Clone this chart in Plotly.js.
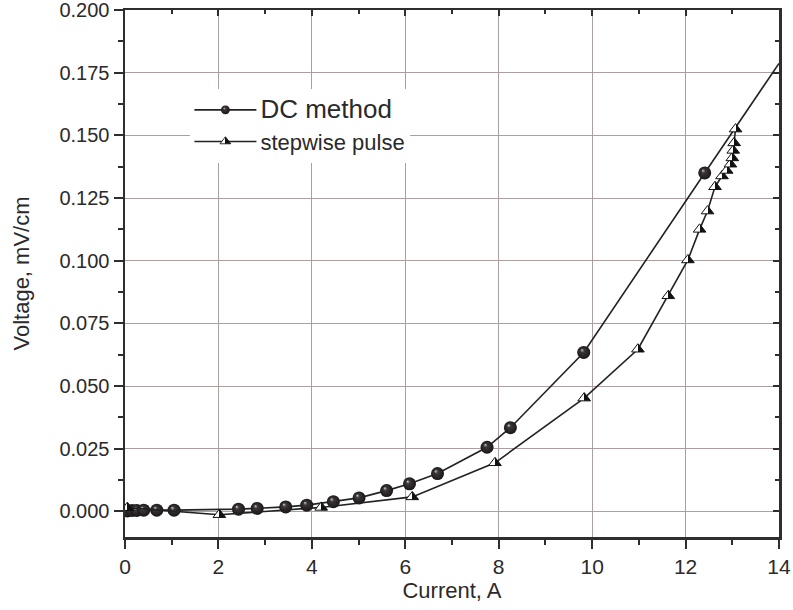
<!DOCTYPE html>
<html><head><meta charset="utf-8">
<script src="https://cdn.plot.ly/plotly-3.0.1.min.js"></script>
<style>html,body{margin:0;padding:0;background:#fff;}#chart{width:793px;height:610px;}</style>
</head><body><div id="chart"></div>
<script>
// DC method (last point: straight-line extension to the right edge, no marker)
const dcCurrent = [0.05, 0.15, 0.25, 0.40, 0.68, 1.05, 2.43, 2.83, 3.44, 3.89, 4.46, 5.01, 5.60, 6.09, 6.69, 7.75, 8.25, 9.82, 12.41, 14.0];
const dcVoltage = [0.0002, 0.0004, 0.0004, 0.0005, 0.0005, 0.0005, 0.0009, 0.0012, 0.0018, 0.0025, 0.0039, 0.0054, 0.0083, 0.0110, 0.0151, 0.0256, 0.0334, 0.0634, 0.1350, 0.1787];
const dcMarkerShown = [1,1,1,1,1,1,1,1,1,1,1,1,1,1,1,1,1,1,1,0];
// stepwise pulse
const spCurrent = [0.05, 2.02, 4.20, 6.15, 7.92, 9.83, 10.98, 11.63, 12.05, 12.30, 12.47, 12.63, 12.78, 12.88, 12.96, 13.00, 13.02, 13.04, 13.07];
const spVoltage = [0.0015, -0.0013, 0.0016, 0.0058, 0.0194, 0.0452, 0.0647, 0.0860, 0.1003, 0.1125, 0.1198, 0.1295, 0.1338, 0.1360, 0.1385, 0.1410, 0.1440, 0.1470, 0.1525];
const seriesNames = ["<span style='font-size:26px'>DC method</span>", "stepwise pulse"];
const xTitle = "Current, A";
const yTitle = "Voltage, mV/cm";

const axisColor = '#2e2e2e';
const gridColor = '#ab9f9f';
const font = {family: 'Liberation Sans, Arial, sans-serif', size: 20, color: '#2a2a2a'};

const traces = [
  {x: dcCurrent, y: dcVoltage, name: seriesNames[0], mode: 'lines+markers',
   line: {color: '#222', width: 1.6},
   marker: {symbol: 'circle', size: dcMarkerShown.map(v => v ? 13 : 0), opacity: 1, color: '#222', line: {width: 0}}},
  {x: spCurrent, y: spVoltage, name: seriesNames[1], mode: 'lines+markers',
   line: {color: '#222', width: 1.6},
   marker: {symbol: 'triangle-up', size: 11, opacity: 1, color: '#fff', line: {width: 1, color: '#111'}}},
  {x: [], y: [], xaxis: 'x2', yaxis: 'y2', showlegend: false, hoverinfo: 'skip'}
];

const layout = {
  width: 793, height: 610,
  margin: {l: 125, r: 14, t: 10, b: 73},
  paper_bgcolor: '#fff', plot_bgcolor: '#fff',
  font: font,
  showlegend: true,
  legend: {x: 0.1, y: 0.85, xanchor: 'left', yanchor: 'top', bgcolor: '#fff', borderwidth: 0,
           font: {family: font.family, size: 22, color: '#2a2a2a'}, tracegroupgap: 0, itemwidth: 60},
  xaxis: {range: [0, 14], dtick: 2, tick0: 0, showline: true, linewidth: 2.5, linecolor: axisColor,
          ticks: 'outside', ticklen: 9, tickwidth: 2, tickcolor: axisColor, ticklabeloverflow: 'allow',
          minor: {dtick: 1, ticks: 'outside', ticklen: 5, tickwidth: 2, tickcolor: axisColor, showgrid: false},
          showgrid: true, gridcolor: gridColor, gridwidth: 1, zeroline: false,
          tickfont: {size: 21, color: '#2a2a2a'},
          title: {text: xTitle, font: {size: 22, color: '#2a2a2a'}, standoff: 4}},
  yaxis: {range: [-0.0102, 0.2], dtick: 0.025, tick0: 0, tickformat: '.3f', showline: true, linewidth: 2.5, linecolor: axisColor,
          ticks: 'outside', ticklen: 9, tickwidth: 2, tickcolor: axisColor, ticklabeloverflow: 'allow',
          minor: {dtick: 0.0125, ticks: 'outside', ticklen: 5, tickwidth: 2, tickcolor: axisColor, showgrid: false},
          showgrid: true, gridcolor: gridColor, gridwidth: 1, zeroline: true, zerolinecolor: gridColor, zerolinewidth: 1,
          tickfont: {size: 20, color: '#2a2a2a'},
          title: {text: yTitle, font: {size: 22, color: '#2a2a2a'}, standoff: 24}},
  xaxis2: {overlaying: 'x', side: 'top', range: [0, 14], dtick: 2, tick0: 0, showline: true, linewidth: 2.5, linecolor: axisColor,
           ticks: 'inside', ticklen: 6, tickwidth: 2, tickcolor: axisColor, showticklabels: false, showgrid: false, zeroline: false,
           minor: {dtick: 1, ticks: 'inside', ticklen: 4, tickwidth: 2, tickcolor: axisColor}},
  yaxis2: {overlaying: 'y', side: 'right', range: [-0.0102, 0.2], dtick: 0.025, tick0: 0, showline: true, linewidth: 2.5, linecolor: axisColor,
           ticks: 'inside', ticklen: 6, tickwidth: 2, tickcolor: axisColor, showticklabels: false, showgrid: false, zeroline: false,
           minor: {dtick: 0.0125, ticks: 'inside', ticklen: 4, tickwidth: 2, tickcolor: axisColor}}
};

Plotly.newPlot('chart', traces, layout, {staticPlot: true}).then(function(gd) {
  const svgNS = 'http://www.w3.org/2000/svg';
  const defs = gd.querySelector('.main-svg defs');
  // sphere shading
  const rg = document.createElementNS(svgNS, 'radialGradient');
  rg.setAttribute('id', 'sphereGrad');
  rg.setAttribute('cx', '0.5'); rg.setAttribute('cy', '0.5'); rg.setAttribute('r', '0.5');
  rg.setAttribute('fx', '0.35'); rg.setAttribute('fy', '0.3');
  [['0', '#f4f2f2'], ['0.08', '#a49e9e'], ['0.3', '#3a3536'], ['0.75', '#272324'], ['1', '#181415']].forEach(function(s) {
    const st = document.createElementNS(svgNS, 'stop');
    st.setAttribute('offset', s[0]); st.setAttribute('stop-color', s[1]); rg.appendChild(st);
  });
  defs.appendChild(rg);
  // half-filled triangle
  const lg = document.createElementNS(svgNS, 'linearGradient');
  lg.setAttribute('id', 'halfGrad');
  lg.setAttribute('x1', '0'); lg.setAttribute('y1', '0'); lg.setAttribute('x2', '1'); lg.setAttribute('y2', '0');
  [['0', '#ffffff'], ['0.5', '#ffffff'], ['0.5', '#111111'], ['1', '#111111']].forEach(function(s) {
    const st = document.createElementNS(svgNS, 'stop');
    st.setAttribute('offset', s[0]); st.setAttribute('stop-color', s[1]); lg.appendChild(st);
  });
  defs.appendChild(lg);
  const scatters = gd.querySelectorAll('.scatterlayer .trace');
  if (scatters[0]) scatters[0].querySelectorAll('path.point').forEach(p => p.style.fill = 'url(#sphereGrad)');
  if (scatters[1]) scatters[1].querySelectorAll('path.point').forEach(p => p.style.fill = 'url(#halfGrad)');
  const legendTraces = gd.querySelectorAll('.legend .traces');
  legendTraces.forEach(function(lt, i) {
    const pts = lt.querySelectorAll('path.scatterpts');
    let cx = 20;
    pts.forEach(function(p) {
      p.style.fill = i === 0 ? 'url(#sphereGrad)' : 'url(#halfGrad)';
      p.style.opacity = 1;
      const tr = p.getAttribute('transform') || '';
      const m = tr.match(/translate\(([-\d.]+)/);
      if (m) cx = parseFloat(m[1]);
      p.setAttribute('transform', tr + (i === 0 ? ' scale(0.72)' : ' scale(0.85)'));
    });
    lt.querySelectorAll('path.js-line').forEach(function(l) {
      l.setAttribute('d', 'M' + (cx - 31) + ',0h62');
    });
  });
});
</script>
</body></html>
